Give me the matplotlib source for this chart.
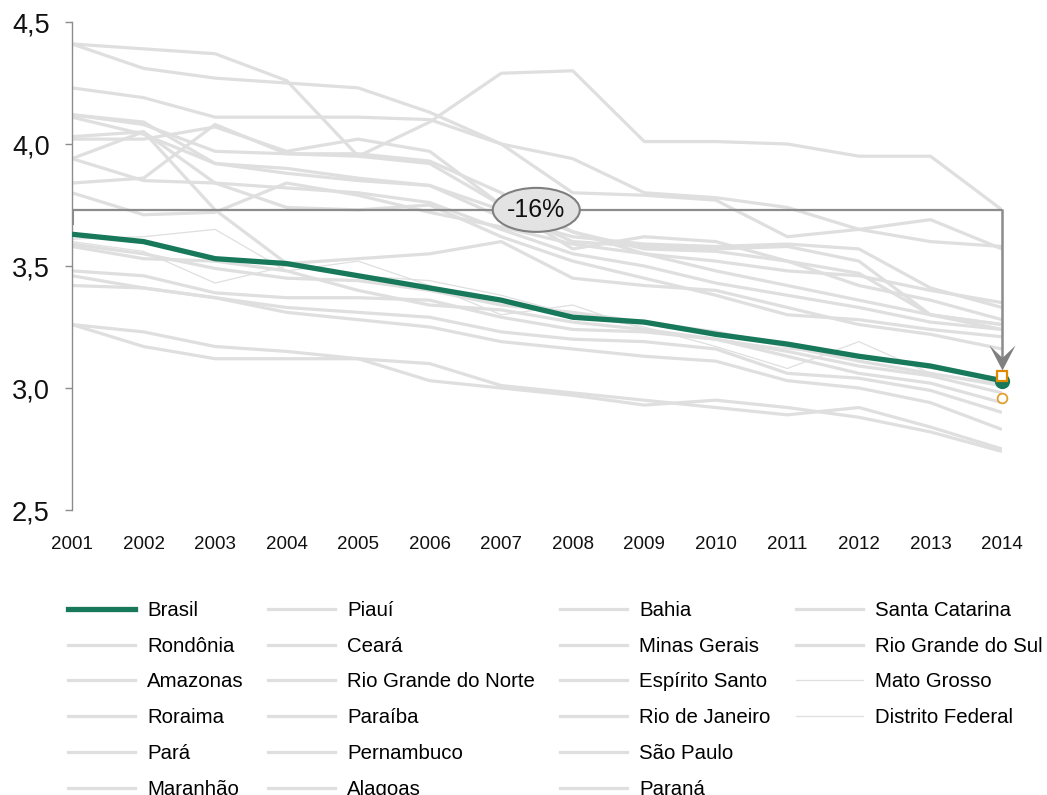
import matplotlib
matplotlib.use('Agg')
import matplotlib.pyplot as plt
from matplotlib.lines import Line2D
from matplotlib.path import Path
from matplotlib.patches import Ellipse
from matplotlib.transforms import ScaledTranslation

plt.rcParams['font.family'] = ['Liberation Sans', 'DejaVu Sans']

years = list(range(2001, 2015))
year_labels = [str(y) for y in years]

brasil = [3.63, 3.60, 3.53, 3.51, 3.46, 3.41, 3.36, 3.29, 3.27, 3.22, 3.18, 3.13, 3.09, 3.03]

rondonia = [3.59, 3.55, 3.49, 3.45, 3.44, 3.40, 3.34, 3.31, 3.27, 3.23, 3.17, 3.11, 3.06, 3.01]
amazonas = [3.46, 3.41, 3.37, 3.33, 3.31, 3.29, 3.23, 3.20, 3.19, 3.16, 3.06, 3.04, 2.99, 2.90]
roraima = [3.94, 4.05, 3.73, 3.51, 3.53, 3.55, 3.60, 3.45, 3.42, 3.40, 3.33, 3.26, 3.22, 3.16]
para = [3.26, 3.23, 3.17, 3.15, 3.12, 3.10, 3.01, 2.98, 2.95, 2.92, 2.89, 2.92, 2.84, 2.75]
maranhao = [4.41, 4.31, 4.27, 4.25, 4.23, 4.13, 4.00, 3.94, 3.80, 3.78, 3.74, 3.65, 3.60, 3.58]
piaui = [4.41, 4.39, 4.37, 4.26, 3.95, 4.09, 4.29, 4.30, 4.01, 4.01, 4.00, 3.95, 3.95, 3.73]
ceara = [4.12, 4.08, 3.97, 3.96, 3.95, 3.92, 3.75, 3.64, 3.55, 3.52, 3.48, 3.46, 3.40, 3.35]
rio_grande_do_norte = [4.11, 4.04, 3.92, 3.90, 3.86, 3.83, 3.70, 3.62, 3.59, 3.58, 3.59, 3.57, 3.41, 3.33]
paraiba = [4.03, 4.05, 3.84, 3.74, 3.73, 3.75, 3.62, 3.52, 3.45, 3.38, 3.30, 3.28, 3.24, 3.21]
pernambuco = [3.84, 3.86, 4.08, 3.96, 3.96, 3.93, 3.80, 3.64, 3.57, 3.56, 3.52, 3.42, 3.36, 3.28]
alagoas = [4.23, 4.19, 4.11, 4.11, 4.11, 4.10, 4.00, 3.80, 3.79, 3.77, 3.62, 3.65, 3.69, 3.57]
bahia = [4.02, 4.02, 4.07, 3.97, 4.02, 3.97, 3.75, 3.57, 3.62, 3.60, 3.52, 3.47, 3.30, 3.26]
minas_gerais = [3.58, 3.53, 3.52, 3.48, 3.40, 3.34, 3.32, 3.27, 3.24, 3.20, 3.15, 3.09, 3.05, 2.98]
espirito_santo = [3.48, 3.46, 3.39, 3.37, 3.37, 3.36, 3.29, 3.24, 3.23, 3.20, 3.13, 3.06, 3.02, 2.94]
rio_de_janeiro = [3.42, 3.41, 3.37, 3.31, 3.28, 3.25, 3.19, 3.16, 3.13, 3.11, 3.03, 3.00, 2.94, 2.83]
sao_paulo = [3.26, 3.17, 3.12, 3.12, 3.12, 3.03, 3.00, 2.97, 2.93, 2.95, 2.92, 2.88, 2.82, 2.74]
parana = [3.94, 3.85, 3.84, 3.82, 3.80, 3.76, 3.65, 3.55, 3.50, 3.43, 3.38, 3.33, 3.27, 3.24]
santa_catarina = [4.12, 4.09, 3.92, 3.88, 3.85, 3.83, 3.73, 3.60, 3.58, 3.57, 3.58, 3.52, 3.30, 3.24]
rio_grande_do_sul = [3.80, 3.71, 3.72, 3.84, 3.79, 3.72, 3.66, 3.59, 3.55, 3.48, 3.42, 3.36, 3.30, 3.26]
mato_grosso = [3.60, 3.56, 3.43, 3.50, 3.46, 3.44, 3.38, 3.30, 3.25, 3.17, 3.08, 3.19, 3.06, 3.02]
distrito_federal = [3.61, 3.62, 3.65, 3.48, 3.52, 3.42, 3.30, 3.34, 3.24, 3.20, 3.16, 3.13, 3.08, 3.04]

state_names = ["Rondônia", "Amazonas", "Roraima", "Pará", "Maranhão", "Piauí", "Ceará",
               "Rio Grande do Norte", "Paraíba", "Pernambuco", "Alagoas", "Bahia",
               "Minas Gerais", "Espírito Santo", "Rio de Janeiro", "São Paulo", "Paraná",
               "Santa Catarina", "Rio Grande do Sul", "Mato Grosso", "Distrito Federal"]
state_values = [rondonia, amazonas, roraima, para, maranhao, piaui, ceara,
                rio_grande_do_norte, paraiba, pernambuco, alagoas, bahia,
                minas_gerais, espirito_santo, rio_de_janeiro, sao_paulo, parana,
                santa_catarina, rio_grande_do_sul, mato_grosso, distrito_federal]
thin_states = ["Mato Grosso", "Distrito Federal"]

yticks = [2.5, 3.0, 3.5, 4.0, 4.5]
ytick_labels = ["2,5", "3,0", "3,5", "4,0", "4,5"]

ref_level = 3.73
arrow_tip = 3.072
square_value = 3.05
circle_value = 2.96
label_year = 2007.49
change_label = "-16%"

GREEN = '#17785a'
GRAY = '#dfdfdf'
AXGRAY = '#8c8c8c'
ORANGE = '#e08a00'

fig = plt.figure(figsize=(10.47, 7.95), dpi=100)
ax = fig.add_axes([72/1047, 1-510/795, (1002-72)/1047, (510-22)/795])
ax.set_xlim(years[0], years[-1])
ax.set_ylim(2.5, 4.5)

handles = [Line2D([], [], color=GREEN, lw=3.8)]
labels = ["Brasil"]
for name, vals in zip(state_names, state_values):
    lw = 0.9 if name in thin_states else 2.3
    ax.plot(years, vals, color=GRAY, lw=lw, zorder=2, solid_capstyle='butt')
    handles.append(Line2D([], [], color=GRAY, lw=lw))
    labels.append(name)

ax.plot(years, brasil, color=GREEN, lw=3.8, zorder=5, solid_capstyle='butt')

# annotation bracket
ax.plot([years[0], years[-1]], [ref_level, ref_level], color=AXGRAY, lw=1.6, zorder=6,
        solid_capstyle='butt')
ax.plot([years[0], years[0]], [ref_level, ref_level - 0.055], color=AXGRAY, lw=2.2, zorder=6)
ax.plot([years[-1], years[-1]], [ref_level, arrow_tip + 0.05], color=AXGRAY, lw=1.8, zorder=6,
        clip_on=False)
head = Path([(0, 0), (-0.52, 1.0), (0, 0.5), (0.52, 1.0), (0, 0)],
            [Path.MOVETO, Path.LINETO, Path.LINETO, Path.LINETO, Path.CLOSEPOLY])
ax.plot([years[-1]], [arrow_tip], marker=head, markersize=36, color='#808080',
        markeredgewidth=0, zorder=9, clip_on=False)

# end markers
ax.plot([years[-1]], [brasil[-1]], marker='o', markersize=11, color=GREEN,
        markeredgewidth=0, zorder=7, clip_on=False)
ax.plot([years[-1]], [square_value], marker='s', markersize=7.5, markerfacecolor='white',
        markeredgecolor=ORANGE, markeredgewidth=1.6, zorder=8, clip_on=False)
ax.plot([years[-1]], [circle_value], marker='o', markersize=7, markerfacecolor='white',
        markeredgecolor='#e0a030', markeredgewidth=1.3, zorder=8, clip_on=False)

# ellipse label
trans = fig.dpi_scale_trans + ScaledTranslation(label_year, ref_level, ax.transData)
ell = Ellipse((0, 0), width=0.87, height=0.44, transform=trans, facecolor='#e3e3e3',
              edgecolor='#7f7f7f', lw=1.5, zorder=10)
ax.add_patch(ell)
ax.text(label_year, ref_level, change_label, ha='center', va='center', fontsize=18,
        color='#111111', zorder=11)

for s in ['top', 'right', 'bottom']:
    ax.spines[s].set_visible(False)
ax.spines['left'].set_color(AXGRAY)
ax.spines['left'].set_linewidth(1.0)

ax.set_yticks(yticks)
ax.set_yticklabels(ytick_labels)
ax.set_xticks(years)
ax.set_xticklabels(year_labels)
ax.tick_params(axis='y', length=5, width=1, color=AXGRAY, labelsize=19.5, pad=11,
               labelcolor='#111111')
ax.tick_params(axis='x', length=0, labelsize=13.5, pad=19, labelcolor='#111111')

# legend: four columns (6, 6, 6, 4 entries), each placed on its own
col_slices = [(0, 6), (6, 12), (12, 18), (18, 22)]
col_x = [68, 268, 560, 796]
for (a, b), x0 in zip(col_slices, col_x):
    leg = fig.legend(handles[a:b], labels[a:b], ncol=1, loc='upper left',
                     bbox_to_anchor=(x0/1047, 1-601/795), frameon=False, fontsize=14.7,
                     handlelength=3.28, handletextpad=0.59,
                     labelspacing=0.82, borderpad=0, borderaxespad=0)

fig.savefig('out.png', dpi=100)
